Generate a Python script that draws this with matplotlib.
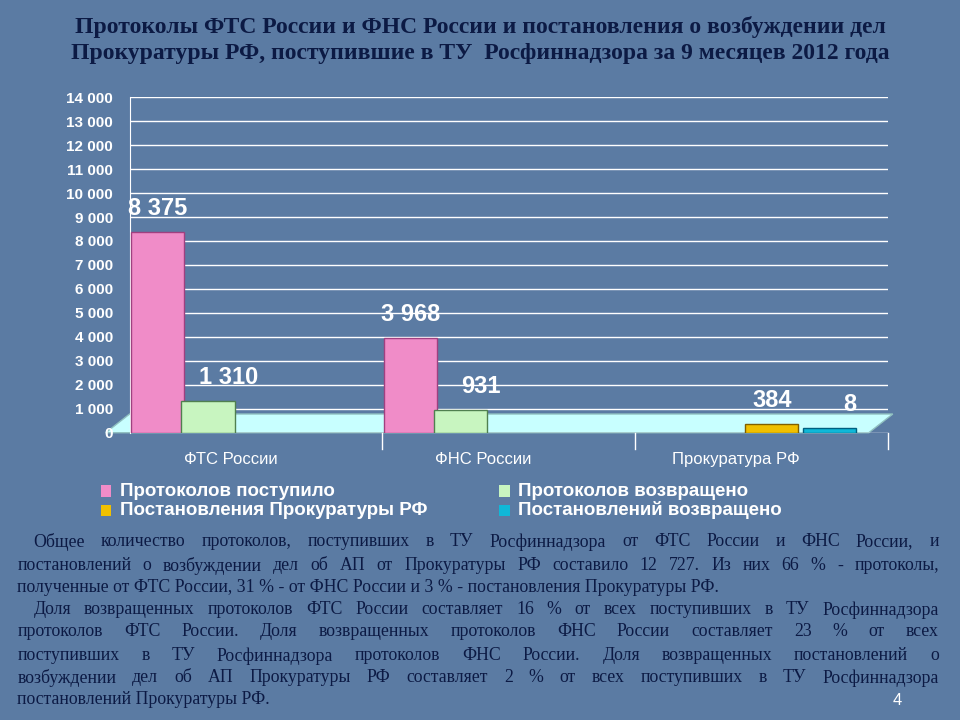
import matplotlib
matplotlib.use("Agg")
import matplotlib.pyplot as plt
from matplotlib.patches import Polygon
import numpy as np

categories = ["ФТС России", "ФНС России", "Прокуратура РФ"]
series_names = ["Протоколов поступило", "Протоколов возвращено",
                "Постановления Прокуратуры РФ", "Постановлений возвращено"]
received = [8375, 3968, 0]
returned = [1310, 931, 0]
prosecutor = [0, 0, 384]
prosecutor_returned = [0, 0, 8]
yticks = list(range(0, 14001, 1000))

colors = ["#f08cc8", "#c8f5c0", "#f0c000", "#10b8d8"]
edges = ["#a04080", "#508050", "#806000", "#006080"]
offsets = [0.11, 0.31, 0.54, 0.77]
BG = "#5b7ba3"

fig = plt.figure(figsize=(9.6, 7.2), dpi=100, facecolor=BG)
fig.text(0.5, 0.962, "Протоколы ФТС России и ФНС России и постановления о возбуждении дел",
         ha="center", va="center", fontsize=17, fontweight="bold",
         family="Liberation Serif", color="#0c1a44")
fig.text(0.5, 0.925, "Прокуратуры РФ, поступившие в ТУ  Росфиннадзора за 9 месяцев 2012 года",
         ha="center", va="center", fontsize=17, fontweight="bold",
         family="Liberation Serif", color="#0c1a44")

ax = fig.add_axes([0.135, 0.399, 0.79, 0.466])
ax.set_facecolor("none")
ax.set_zorder(2)
fig.patches.append(Polygon([[0.11, 0.399], [0.905, 0.399], [0.93, 0.425], [0.135, 0.425]],
                           closed=True, transform=fig.transFigure, facecolor="#c8ffff",
                           edgecolor="#90c0c0", zorder=1))
ax.set_xlim(0, 3)
ax.set_ylim(0, 14000)
ax.set_yticks(yticks)
ax.set_yticklabels([f"{v:,}".replace(",", " ") for v in yticks], color="white",
                   fontsize=11, fontweight="bold", family="Liberation Sans")
ax.tick_params(axis="y", length=0, pad=12)
ax.set_xticks([i + 0.4 for i in range(3)])
ax.set_xticklabels(categories, color="white", fontsize=12, family="Liberation Sans")
ax.tick_params(axis="x", length=0, pad=14)
ax.grid(axis="y", color="white", lw=1)
ax.set_axisbelow(True)
for s in ["top", "right", "bottom"]:
    ax.spines[s].set_visible(False)
ax.spines["left"].set_color("white")
for x in [1, 2, 3]:
    ax.axvline(x, ymin=-0.05, ymax=0, color="white", lw=1, clip_on=False)

data = [received, returned, prosecutor, prosecutor_returned]
for k, vals in enumerate(data):
    for i, v in enumerate(vals):
        if v == 0:
            continue
        h = max(v, 200)
        ax.bar(i + offsets[k], h, width=0.21, color=colors[k], edgecolor=edges[k], lw=1, zorder=3)
        lx = i + offsets[k] + (0.08 if k in (1, 3) else 0)
        ax.text(lx, h + 500, f"{v:,}".replace(",", " "), ha="center", va="bottom",
                fontsize=17, fontweight="bold", color="white", family="Liberation Sans", zorder=5)

leg_pos = [(0.105, 0.318), (0.52, 0.318), (0.105, 0.291), (0.52, 0.291)]
for k, (lx, ly) in enumerate(leg_pos):
    fig.patches.append(Polygon([[lx, ly - 0.008], [lx + 0.011, ly - 0.008], [lx + 0.011, ly + 0.008], [lx, ly + 0.008]],
                               closed=True, transform=fig.transFigure, facecolor=colors[k], edgecolor="none"))
    fig.text(lx + 0.02, ly, series_names[k], va="center", ha="left", fontsize=13.5,
             fontweight="bold", color="white", family="Liberation Sans")

lines = [
    (True, True, "Общее количество протоколов, поступивших в ТУ Росфиннадзора от ФТС России и ФНС России, и"),
    (False, True, "постановлений о возбуждении дел об АП от Прокуратуры РФ составило 12 727. Из них  66 % - протоколы,"),
    (False, False, "полученные от ФТС России, 31 % - от ФНС России и 3 % - постановления Прокуратуры РФ."),
    (True, True, "Доля возвращенных протоколов ФТС России составляет 16 % от всех поступивших в ТУ Росфиннадзора"),
    (False, True, "протоколов ФТС России. Доля возвращенных протоколов ФНС России составляет 23 % от всех"),
    (False, True, "поступивших в ТУ Росфиннадзора протоколов ФНС России. Доля возвращенных постановлений о"),
    (False, True, "возбуждении дел об АП Прокуратуры РФ составляет 2 % от всех поступивших в ТУ Росфиннадзора"),
    (False, False, "постановлений Прокуратуры РФ."),
]
ys = [1 - p / 720 for p in [542, 566, 587, 610, 632, 656, 678, 700]]
renderer = fig.canvas.get_renderer()
right = 0.978
for (ind, just, t), y in zip(lines, ys):
    x0 = 0.035 if ind else 0.018
    kw = dict(ha="left", va="center", fontsize=12.8, family="Liberation Serif", color="#0c1a44")
    if not just:
        fig.text(x0, y, t, **kw)
        continue
    words = t.split()
    objs = [fig.text(0, y, w, **kw) for w in words]
    widths = [o.get_window_extent(renderer).width / fig.bbox.width for o in objs]
    gap = (right - x0 - sum(widths)) / (len(words) - 1)
    xx = x0
    for o, w in zip(objs, widths):
        o.set_x(xx)
        xx += w + gap
fig.text(0.935, 0.027, "4", ha="center", va="center", fontsize=12, color="white",
         family="Liberation Sans")

fig.savefig("out.png", dpi=100, facecolor=BG)
